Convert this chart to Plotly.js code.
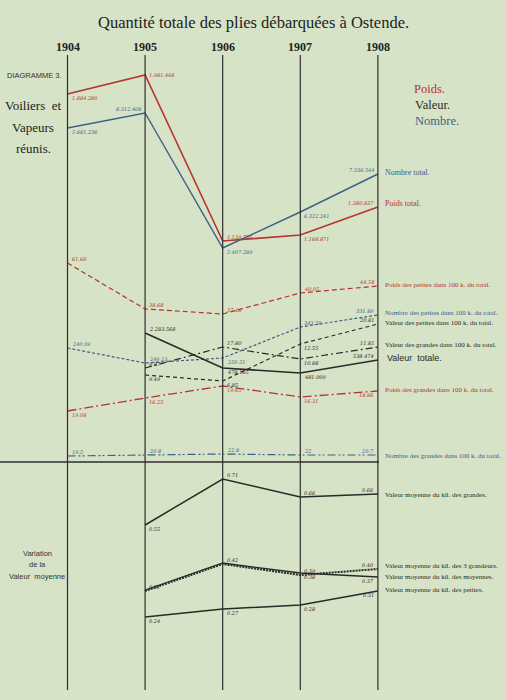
<!DOCTYPE html>
<html><head><meta charset="utf-8">
<script src="https://cdn.plot.ly/plotly-3.0.1.min.js"></script>
<style>html,body{margin:0;padding:0;background:#d6e3c6}#chart{width:506px;height:700px}</style>
</head><body><div id="chart"></div>
<script>
// ---------- DATA (levels, in diagram height units, top = 0) ----------
const years = [1904, 1905, 1906, 1907, 1908];
const years05 = [1905, 1906, 1907, 1908];

const poidsTotal = [94, 75, 241, 235, 207];
const poidsTotalLbl = ["1.884.280", "1.981.448", "1.139.730", "1.168.871", "1.380.837"];
const nombreTotal = [128, 113, 248, 212, 174];
const nombreTotalLbl = ["5.681.236", "8.312.408", "5.407.289", "6.322.241", "7.336.544"];

const poidsPetites = [263, 309, 314, 293, 286];
const poidsPetitesLbl = ["61.66", "38.68", "37.46", "40.05", "44.58"];
const nombrePetites = [348, 363, 358, 327, 315];
const nombrePetitesLbl = ["240.09", "249.13", "250.51", "343.50", "331.89"];
const valeurPetites = [375, 381, 344, 324];
const valeurPetitesLbl = ["9.49", "6.85", "12.55", "20.81"];
const valeurGrandes = [368, 347, 359, 347];
const valeurGrandesLbl = ["9.87", "17.80", "10.88", "11.81"];
const valeurTotale = [333, 368, 373, 360];
const valeurTotaleLbl = ["2.283.568", "478.165", "481.009", "538.474"];
const poidsGrandes = [411, 398, 386, 397, 391];
const poidsGrandesLbl = ["19.08", "16.25", "19.65", "16.31", "18.86"];
const nombreGrandes = [456, 455, 454, 455, 455];
const nombreGrandesLbl = ["19.5", "20.8", "22.8", "22", "20.7"];

const vmGrandes = [525, 479, 497, 494];
const vmGrandesLbl = ["0.55", "0.71", "0.66", "0.66"];
const vm3Grandeurs = [591, 564, 575, 569];
const vm3GrandeursLbl = ["0.31", "0.42", "0.39", "0.40"];
const vmMoyennes = [590, 563, 573, 577];
const vmMoyennesLbl = ["", "", "0.38", "0.37"];
const vmPetites = [617, 609, 605, 591];
const vmPetitesLbl = ["0.24", "0.27", "0.28", "0.31"];

// ---------- STYLE ----------
const RED = "#b5342f", BLUE = "#3d6186", BLK = "#2a2a28";
const W = 506, H = 700;
const pxPerYear = 77.6, x1904px = 67.5;
const xr0 = 1904 - x1904px / pxPerYear;
const xr1 = xr0 + W / pxPerYear;

const series = [
  {x: years, y: poidsTotal, t: poidsTotalLbl, c: RED, w: 1.6, d: "solid", p: ["br","r","tr","br","tl"]},
  {x: years, y: nombreTotal, t: nombreTotalLbl, c: BLUE, w: 1.4, d: "solid", p: ["br","tl","br","br","tl"]},
  {x: years, y: poidsPetites, t: poidsPetitesLbl, c: RED, w: 1.2, d: "5px,3px", p: ["tr","tr","tr","tr","tl"]},
  {x: years, y: nombrePetites, t: nombrePetitesLbl, c: BLUE, w: 1.2, d: "3px,2px", p: ["tr","tr","br","tr","tl"]},
  {x: years05, y: valeurPetites, t: valeurPetitesLbl, c: BLK, w: 1.2, d: "4px,3px", p: ["br","br","br","tl"]},
  {x: years05, y: valeurGrandes, t: valeurGrandesLbl, c: BLK, w: 1.2, d: "7px,3px,2px,3px", p: ["tr","tr","br","tl"]},
  {x: years05, y: valeurTotale, t: valeurTotaleLbl, c: BLK, w: 1.6, d: "solid", p: ["tr","br","br","tl"]},
  {x: years, y: poidsGrandes, t: poidsGrandesLbl, c: RED, w: 1.3, d: "9px,3px,2px,3px", p: ["br","br","br","br","bl"]},
  {x: years, y: nombreGrandes, t: nombreGrandesLbl, c: BLUE, w: 1.2, d: "8px,3px,2px,2px,2px,3px", p: ["tr","tr","tr","tr","tl"]},
  {x: years05, y: vmGrandes, t: vmGrandesLbl, c: BLK, w: 1.5, d: "solid", p: ["br","tr","tr","tl"]},
  {x: years05, y: vm3Grandeurs, t: vm3GrandeursLbl, c: BLK, w: 2, d: "2px,1px", p: ["tr","tr","tr","tl"]},
  {x: years05, y: vmMoyennes, t: vmMoyennesLbl, c: BLK, w: 1.3, d: "solid", p: ["br","br","br","bl"]},
  {x: years05, y: vmPetites, t: vmPetitesLbl, c: BLK, w: 1.5, d: "solid", p: ["br","br","br","bl"]}
];

const traces = series.map(s => ({
  x: s.x, y: s.y, type: "scatter", mode: "lines", hoverinfo: "skip",
  line: {color: s.c, width: s.w, dash: s.d}
}));

const annotations = [];
series.forEach(s => {
  s.x.forEach((xv, i) => {
    if (!s.t[i]) return;
    const p = s.p[i];
    const left = p.includes("l"), top = p.includes("t"), bot = p.includes("b");
    annotations.push({
      x: xv, y: s.y[i], xref: "x", yref: "y", text: "<i>" + s.t[i] + "</i>",
      showarrow: false, font: {family: "DejaVu Serif", size: 5, color: s.c},
      xanchor: left ? "right" : "left", xshift: left ? -2 : 2,
      yanchor: top ? "bottom" : (bot ? "top" : "middle"), yshift: top ? -1 : (bot ? 1 : 0)
    });
  });
});

// year headers
years.forEach(yv => annotations.push({
  x: yv, y: 47, xref: "x", yref: "y", text: "<b>" + yv + "</b>", showarrow: false,
  font: {family: "Liberation Serif", size: 12, color: "#222"}, xanchor: "center", yanchor: "middle"
}));

function paperText(text, px, py, size, color, family, anchor) {
  annotations.push({x: px / W, y: 1 - py / H, xref: "paper", yref: "paper", text: text, showarrow: false,
    font: {family: family || "Liberation Serif", size: size, color: color || "#222"},
    xanchor: anchor || "left", yanchor: "middle"});
}

// title & left texts
paperText("Quantité totale des plies débarquées à Ostende.", 253, 22, 16.5, "#222", "Liberation Serif", "center");
paperText("DIAGRAMME 3.", 5, 76, 7.5, "#333", "Liberation Sans");
paperText("Voiliers  et", 33, 105, 13, "#222", "Liberation Serif", "center");
paperText("Vapeurs", 33, 127, 13, "#222", "Liberation Serif", "center");
paperText("réunis.", 33, 148, 13, "#222", "Liberation Serif", "center");
paperText("Variation", 37, 553, 7.5, "#333", "Liberation Sans", "center");
paperText("de la", 37, 564, 7.5, "#333", "Liberation Sans", "center");
paperText("Valeur  moyenne", 37, 576, 7.5, "#333", "Liberation Sans", "center");

// legend words
paperText("Poids.", 412, 89, 12.5, RED, "Liberation Serif");
paperText("Valeur.", 413, 105, 12.5, BLK, "Liberation Serif");
paperText("Nombre.", 413, 121, 12.5, BLUE, "Liberation Serif");

// right-side series names
const rx = 383;
paperText("Nombre total.", rx, 172, 8, BLUE);
paperText("Poids total.", rx, 204, 8, RED);
paperText("Poids des petites dans 100 k. du total.", rx, 285, 7, RED);
paperText("Nombre des petites dans 100 k. du total.", rx, 313, 7, BLUE);
paperText("Valeur des petites dans 100 k. du total.", rx, 323, 7, BLK);
paperText("Valeur des grandes dans 100 k. du total.", rx, 345, 7, BLK);
paperText("Valeur  totale.", rx + 2, 358, 9, BLK, "Liberation Sans");
paperText("Poids des grandes dans 100 k. du total.", rx, 390, 7, RED);
paperText("Nombre des grandes dans 100 k. du total.", rx, 456, 7, BLUE);
paperText("Valeur moyenne du kil. des grandes.", rx, 495, 7, BLK);
paperText("Valeur moyenne du kil. des 3 grandeurs.", rx, 566, 7, BLK);
paperText("Valeur moyenne du kil. des moyennes.", rx, 577, 7, BLK);
paperText("Valeur moyenne du kil. des petites.", rx, 590, 7, BLK);

// frame lines
const shapes = years.map(yv => ({type: "line", xref: "x", yref: "y", x0: yv, x1: yv, y0: 55, y1: 690,
  line: {color: "#2e2e2c", width: 1.2}}));
shapes.push({type: "line", xref: "paper", yref: "y", x0: 0, x1: 379 / W, y0: 462, y1: 462,
  line: {color: "#2e2e2c", width: 1.4}});

const layout = {
  width: W, height: H, margin: {l: 0, r: 0, t: 0, b: 0},
  paper_bgcolor: "#d6e3c6", plot_bgcolor: "#d6e3c6", showlegend: false,
  xaxis: {range: [xr0, xr1], visible: false, fixedrange: true},
  yaxis: {range: [H, 0], visible: false, fixedrange: true},
  annotations: annotations, shapes: shapes
};
Plotly.newPlot("chart", traces, layout, {staticPlot: true, displayModeBar: false});
</script></body></html>
